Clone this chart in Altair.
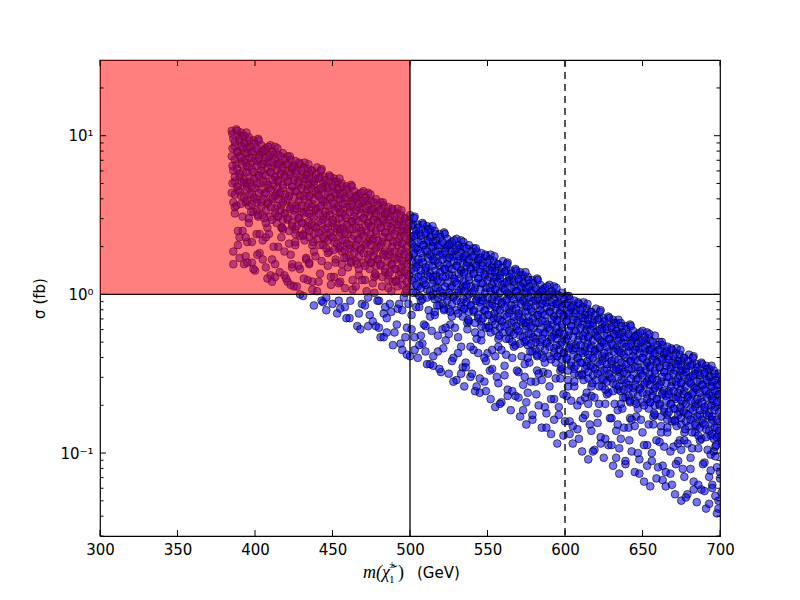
import altair as alt
import pandas as pd

# ---- scatter points: (chargino mass [GeV], log10 of sigma [fb]) ----
# dense upper part of the band
core_385_534 = [
(385,1.03),(388,1.04),(391,1.02),(393,1.00),(386,0.98),(390,0.97),(394,0.95),(387,0.93),(392,0.92),(389,0.90),(385,0.87),(391,0.86),(394,0.83),(388,0.82),(386,0.78),(392,0.77),(390,0.74),(387,0.71),(393,0.70),(389,0.66),(385,0.64),(391,0.62),(394,0.58),(388,0.56),
(396,0.99),(399,0.97),(402,0.98),(404,0.94),(397,0.93),(400,0.90),(395,0.89),(403,0.88),(398,0.86),(401,0.84),(396,0.80),(404,0.81),(399,0.77),(402,0.75),(397,0.71),(395,0.68),(400,0.67),(403,0.70),(398,0.63),(401,0.60),(396,0.56),(404,0.58),(399,0.52),(402,0.49),
(407,0.92),(410,0.94),(413,0.93),(405,0.90),(409,0.87),(412,0.88),(406,0.84),(414,0.82),(408,0.83),(411,0.80),(405,0.76),(410,0.77),(413,0.74),(407,0.71),(409,0.67),(412,0.69),(414,0.64),(406,0.63),(411,0.60),(408,0.57),(413,0.54),(405,0.50),(410,0.49),(407,0.45),
(415,0.88),(418,0.89),(421,0.87),(423,0.85),(416,0.83),(420,0.82),(424,0.80),(417,0.78),(422,0.77),(419,0.75),(415,0.72),(421,0.71),(424,0.68),(418,0.67),(416,0.63),(422,0.62),(420,0.59),(417,0.56),(423,0.55),(419,0.51),(415,0.49),(421,0.47),(424,0.43),(418,0.41),
(426,0.84),(429,0.82),(432,0.83),(434,0.79),(427,0.78),(430,0.75),(425,0.74),(433,0.73),(428,0.71),(431,0.69),(426,0.65),(434,0.66),(429,0.62),(432,0.60),(427,0.56),(425,0.53),(430,0.52),(433,0.55),(428,0.48),(431,0.45),(426,0.41),(434,0.43),(429,0.37),(432,0.34),
(437,0.78),(440,0.80),(443,0.79),(435,0.76),(439,0.73),(442,0.74),(436,0.70),(444,0.68),(438,0.69),(441,0.66),(435,0.62),(440,0.63),(443,0.60),(437,0.57),(439,0.53),(442,0.55),(444,0.50),(436,0.49),(441,0.46),(438,0.43),(443,0.40),(435,0.36),(440,0.35),(437,0.31),
(445,0.74),(448,0.75),(451,0.73),(453,0.71),(446,0.69),(450,0.68),(454,0.66),(447,0.64),(452,0.63),(449,0.61),(445,0.58),(451,0.57),(454,0.54),(448,0.53),(446,0.49),(452,0.48),(450,0.45),(447,0.42),(453,0.41),(449,0.37),(445,0.35),(451,0.33),(454,0.29),(448,0.27),
(456,0.70),(459,0.68),(462,0.69),(464,0.65),(457,0.64),(460,0.61),(455,0.60),(463,0.59),(458,0.57),(461,0.55),(456,0.51),(464,0.52),(459,0.48),(462,0.46),(457,0.42),(455,0.39),(460,0.38),(463,0.41),(458,0.34),(461,0.31),(456,0.27),(464,0.29),(459,0.23),(462,0.20),
(467,0.63),(470,0.65),(473,0.64),(465,0.61),(469,0.58),(472,0.59),(466,0.55),(474,0.53),(468,0.54),(471,0.51),(465,0.47),(470,0.48),(473,0.45),(467,0.42),(469,0.38),(472,0.40),(474,0.35),(466,0.34),(471,0.31),(468,0.28),(473,0.25),(465,0.21),(470,0.20),(467,0.16),
(475,0.59),(478,0.60),(481,0.58),(483,0.56),(476,0.54),(480,0.53),(484,0.51),(477,0.49),(482,0.48),(479,0.46),(475,0.43),(481,0.42),(484,0.39),(478,0.38),(476,0.34),(482,0.33),(480,0.30),(477,0.27),(483,0.26),(479,0.22),(475,0.20),(481,0.18),(484,0.14),(478,0.12),
(486,0.55),(489,0.53),(492,0.54),(494,0.50),(487,0.49),(490,0.46),(485,0.45),(493,0.44),(488,0.42),(491,0.40),(486,0.36),(494,0.37),(489,0.33),(492,0.31),(487,0.27),(485,0.24),(490,0.23),(493,0.26),(488,0.19),(491,0.16),(486,0.12),(494,0.14),(489,0.08),(492,0.05),
(497,0.48),(500,0.50),(503,0.49),(495,0.46),(499,0.43),(502,0.44),(496,0.40),(504,0.38),(498,0.39),(501,0.36),(495,0.32),(500,0.33),(503,0.30),(497,0.27),(499,0.23),(502,0.25),(504,0.20),(496,0.19),(501,0.16),(498,0.13),(503,0.10),(495,0.06),(500,0.05),(497,0.01),
(505,0.44),(508,0.45),(511,0.43),(513,0.41),(506,0.39),(510,0.38),(514,0.36),(507,0.34),(512,0.33),(509,0.31),(505,0.28),(511,0.27),(514,0.24),(508,0.23),(506,0.19),(512,0.18),(510,0.15),(507,0.12),(513,0.11),(509,0.07),(505,0.05),(511,0.03),(514,-0.01),(508,-0.03),
(516,0.40),(519,0.38),(522,0.39),(524,0.35),(517,0.34),(520,0.31),(515,0.30),(523,0.29),(518,0.27),(521,0.25),(516,0.21),(524,0.22),(519,0.18),(522,0.16),(517,0.12),(515,0.09),(520,0.08),(523,0.11),(518,0.04),(521,0.01),(516,-0.03),(524,-0.01),(519,-0.07),(522,-0.10),
(527,0.33),(530,0.35),(533,0.34),(525,0.31),(529,0.28),(532,0.29),(526,0.25),(534,0.23),(528,0.24),(531,0.21),(525,0.17),(530,0.18),(533,0.15),(527,0.12),(529,0.08),(532,0.10),(534,0.05),(526,0.04),(531,0.01),(528,-0.02),(533,-0.05),(525,-0.09),(530,-0.10),(527,-0.14),
]
core_535_701 = [
(535,0.30),(538,0.31),(541,0.29),(543,0.27),(536,0.25),(540,0.24),(544,0.22),(537,0.20),(542,0.19),(539,0.17),(535,0.14),(541,0.13),(544,0.10),(538,0.09),(536,0.05),(542,0.04),(540,0.01),(537,-0.02),(543,-0.03),(539,-0.07),(535,-0.09),(541,-0.11),(544,-0.15),(538,-0.17),
(546,0.26),(549,0.24),(552,0.25),(554,0.21),(547,0.20),(550,0.17),(545,0.16),(553,0.15),(548,0.13),(551,0.11),(546,0.07),(554,0.08),(549,0.04),(552,0.02),(547,-0.02),(545,-0.05),(550,-0.06),(553,-0.03),(548,-0.10),(551,-0.13),(546,-0.17),(554,-0.15),(549,-0.21),(552,-0.24),
(557,0.19),(560,0.21),(563,0.20),(555,0.17),(559,0.14),(562,0.15),(556,0.11),(564,0.09),(558,0.10),(561,0.07),(555,0.03),(560,0.04),(563,0.01),(557,-0.02),(559,-0.06),(562,-0.04),(564,-0.09),(556,-0.10),(561,-0.13),(558,-0.16),(563,-0.19),(555,-0.23),(560,-0.24),(557,-0.28),
(565,0.15),(568,0.16),(571,0.14),(573,0.12),(566,0.10),(570,0.09),(574,0.07),(567,0.05),(572,0.04),(569,0.02),(565,-0.01),(571,-0.02),(574,-0.05),(568,-0.06),(566,-0.10),(572,-0.11),(570,-0.14),(567,-0.17),(573,-0.18),(569,-0.22),(565,-0.24),(571,-0.26),(574,-0.30),(568,-0.32),
(576,0.11),(579,0.09),(582,0.10),(584,0.06),(577,0.05),(580,0.02),(575,0.01),(583,0.00),(578,-0.02),(581,-0.04),(576,-0.08),(584,-0.07),(579,-0.11),(582,-0.13),(577,-0.17),(575,-0.20),(580,-0.21),(583,-0.18),(578,-0.25),(581,-0.28),(576,-0.32),(584,-0.30),(579,-0.36),(582,-0.39),
(587,0.04),(590,0.06),(593,0.05),(585,0.02),(589,-0.01),(592,0.00),(586,-0.04),(594,-0.06),(588,-0.05),(591,-0.08),(585,-0.12),(590,-0.11),(593,-0.14),(587,-0.17),(589,-0.21),(592,-0.19),(594,-0.24),(586,-0.25),(591,-0.28),(588,-0.31),(593,-0.34),(585,-0.38),(590,-0.39),(587,-0.43),
(595,0.00),(598,0.01),(601,-0.01),(603,-0.03),(596,-0.05),(600,-0.06),(604,-0.08),(597,-0.10),(602,-0.11),(599,-0.13),(595,-0.16),(601,-0.17),(604,-0.20),(598,-0.21),(596,-0.25),(602,-0.26),(600,-0.29),(597,-0.32),(603,-0.33),(599,-0.37),(595,-0.39),(601,-0.41),(604,-0.45),(598,-0.47),
(606,-0.04),(609,-0.06),(612,-0.05),(614,-0.09),(607,-0.10),(610,-0.13),(605,-0.14),(613,-0.15),(608,-0.17),(611,-0.19),(606,-0.23),(614,-0.22),(609,-0.26),(612,-0.28),(607,-0.32),(605,-0.35),(610,-0.36),(613,-0.33),(608,-0.40),(611,-0.43),(606,-0.47),(614,-0.45),(609,-0.51),(612,-0.54),
(617,-0.11),(620,-0.09),(623,-0.10),(615,-0.13),(619,-0.16),(622,-0.15),(616,-0.19),(624,-0.21),(618,-0.20),(621,-0.23),(615,-0.27),(620,-0.26),(623,-0.29),(617,-0.32),(619,-0.36),(622,-0.34),(624,-0.39),(616,-0.40),(621,-0.43),(618,-0.46),(623,-0.49),(615,-0.53),(620,-0.54),(617,-0.58),
(625,-0.15),(628,-0.14),(631,-0.16),(633,-0.18),(626,-0.20),(630,-0.21),(634,-0.23),(627,-0.25),(632,-0.26),(629,-0.28),(625,-0.31),(631,-0.32),(634,-0.35),(628,-0.36),(626,-0.40),(632,-0.41),(630,-0.44),(627,-0.47),(633,-0.48),(629,-0.52),(625,-0.54),(631,-0.56),(634,-0.60),(628,-0.62),
(636,-0.18),(639,-0.20),(642,-0.19),(644,-0.23),(637,-0.24),(640,-0.27),(635,-0.28),(643,-0.29),(638,-0.31),(641,-0.33),(636,-0.37),(644,-0.36),(639,-0.40),(642,-0.42),(637,-0.46),(635,-0.49),(640,-0.50),(643,-0.47),(638,-0.54),(641,-0.57),(636,-0.61),(644,-0.59),(639,-0.65),(642,-0.68),
(647,-0.25),(650,-0.23),(653,-0.24),(645,-0.27),(649,-0.30),(652,-0.29),(646,-0.33),(654,-0.35),(648,-0.34),(651,-0.37),(645,-0.41),(650,-0.40),(653,-0.43),(647,-0.46),(649,-0.50),(652,-0.48),(654,-0.53),(646,-0.54),(651,-0.57),(648,-0.60),(653,-0.63),(645,-0.67),(650,-0.68),(647,-0.72),
(655,-0.29),(658,-0.26),(661,-0.30),(663,-0.32),(656,-0.34),(660,-0.35),(664,-0.37),(657,-0.39),(662,-0.40),(659,-0.42),(655,-0.45),(661,-0.46),(664,-0.49),(658,-0.50),(656,-0.54),(662,-0.55),(660,-0.58),(657,-0.61),(663,-0.62),(659,-0.66),(655,-0.68),(661,-0.70),(664,-0.74),(658,-0.76),
(666,-0.33),(669,-0.35),(672,-0.34),(674,-0.38),(667,-0.39),(670,-0.42),(665,-0.43),(673,-0.44),(668,-0.46),(671,-0.48),(666,-0.52),(674,-0.51),(669,-0.55),(672,-0.57),(667,-0.61),(665,-0.64),(670,-0.65),(673,-0.62),(668,-0.69),(671,-0.72),(666,-0.76),(674,-0.74),(669,-0.80),(672,-0.83),
(677,-0.40),(680,-0.38),(683,-0.39),(675,-0.42),(679,-0.45),(682,-0.44),(676,-0.48),(684,-0.50),(678,-0.49),(681,-0.52),(675,-0.56),(680,-0.55),(683,-0.58),(677,-0.61),(679,-0.65),(682,-0.63),(684,-0.68),(676,-0.69),(681,-0.72),(678,-0.75),(683,-0.78),(675,-0.82),(680,-0.83),(677,-0.87),
(685,-0.44),(688,-0.43),(691,-0.45),(693,-0.47),(686,-0.49),(690,-0.50),(694,-0.52),(687,-0.54),(692,-0.55),(689,-0.57),(685,-0.60),(691,-0.61),(694,-0.64),(688,-0.65),(686,-0.69),(692,-0.70),(690,-0.73),(687,-0.76),(693,-0.77),(689,-0.81),(685,-0.83),(691,-0.85),(694,-0.89),(688,-0.91),
(696,-0.48),(699,-0.50),(697,-0.54),(700,-0.57),(695,-0.58),(698,-0.61),(696,-0.67),(699,-0.63),(697,-0.71),(695,-0.79),(700,-0.80),(698,-0.84),(701,-0.70),(696,-0.91),(699,-0.89),(697,-0.96),(701,-0.92),
]
# more points filling the dense upper part
fill_385_534 = [
(385.5,1.01),(388.5,1.03),(391.5,1.00),(394.5,1.02),(387,0.96),(390,0.98),(393,0.95),(385.5,0.92),(388.5,0.90),(391.5,0.93),(394.5,0.89),(387,0.85),(390,0.87),(393,0.84),(385.5,0.81),(388.5,0.79),(391.5,0.82),(394.5,0.77),(387,0.74),(390,0.76),(393,0.72),(385.5,0.70),(388.5,0.68),(391.5,0.71),(394.5,0.66),(387,0.63),(390,0.65),(393,0.61),(386,0.58),(391,0.57),
(396.5,0.97),(399.5,0.95),(402.5,0.97),(395,0.92),(398,0.90),(401,0.92),(404,0.89),(396.5,0.86),(399.5,0.84),(402.5,0.86),(395,0.81),(398,0.79),(401,0.81),(404,0.78),(396.5,0.74),(399.5,0.73),(402.5,0.75),(395,0.70),(398,0.68),(401,0.70),(404,0.66),(396.5,0.63),(399.5,0.61),(402.5,0.64),(395,0.59),(398,0.57),(401,0.58),(404,0.55),(397.5,0.52),(402,0.50),
(405.5,0.91),(408.5,0.93),(411.5,0.90),(414.5,0.92),(407,0.86),(410,0.88),(413,0.85),(405.5,0.82),(408.5,0.80),(411.5,0.83),(414.5,0.79),(407,0.75),(410,0.77),(413,0.74),(405.5,0.71),(408.5,0.69),(411.5,0.72),(414.5,0.67),(407,0.64),(410,0.66),(413,0.62),(405.5,0.60),(408.5,0.58),(411.5,0.61),(414.5,0.56),(407,0.53),(410,0.55),(413,0.51),(406,0.48),(411,0.47),
(416.5,0.87),(419.5,0.85),(422.5,0.87),(415,0.82),(418,0.80),(421,0.82),(424,0.79),(416.5,0.76),(419.5,0.74),(422.5,0.76),(415,0.71),(418,0.69),(421,0.71),(424,0.68),(416.5,0.64),(419.5,0.63),(422.5,0.65),(415,0.60),(418,0.58),(421,0.60),(424,0.56),(416.5,0.53),(419.5,0.51),(422.5,0.54),(415,0.49),(418,0.47),(421,0.48),(424,0.45),(417.5,0.42),(422,0.40),
(425.5,0.81),(428.5,0.83),(431.5,0.80),(434.5,0.82),(427,0.76),(430,0.78),(433,0.75),(425.5,0.72),(428.5,0.70),(431.5,0.73),(434.5,0.69),(427,0.65),(430,0.67),(433,0.64),(425.5,0.61),(428.5,0.59),(431.5,0.62),(434.5,0.57),(427,0.54),(430,0.56),(433,0.52),(425.5,0.50),(428.5,0.48),(431.5,0.51),(434.5,0.46),(427,0.43),(430,0.45),(433,0.41),(426,0.38),(431,0.37),
(436.5,0.78),(439.5,0.76),(442.5,0.78),(435,0.73),(438,0.71),(441,0.73),(444,0.70),(436.5,0.67),(439.5,0.65),(442.5,0.67),(435,0.62),(438,0.60),(441,0.62),(444,0.59),(436.5,0.55),(439.5,0.54),(442.5,0.56),(435,0.51),(438,0.49),(441,0.51),(444,0.47),(436.5,0.44),(439.5,0.42),(442.5,0.45),(435,0.40),(438,0.38),(441,0.39),(444,0.36),(437.5,0.33),(442,0.31),
(445.5,0.72),(448.5,0.74),(451.5,0.71),(454.5,0.73),(447,0.67),(450,0.69),(453,0.66),(445.5,0.63),(448.5,0.61),(451.5,0.64),(454.5,0.60),(447,0.56),(450,0.58),(453,0.55),(445.5,0.52),(448.5,0.50),(451.5,0.53),(454.5,0.48),(447,0.45),(450,0.47),(453,0.43),(445.5,0.41),(448.5,0.39),(451.5,0.42),(454.5,0.37),(447,0.34),(450,0.36),(453,0.32),(446,0.29),(451,0.28),
(456.5,0.68),(459.5,0.66),(462.5,0.68),(455,0.63),(458,0.61),(461,0.63),(464,0.60),(456.5,0.57),(459.5,0.55),(462.5,0.57),(455,0.52),(458,0.50),(461,0.52),(464,0.49),(456.5,0.45),(459.5,0.44),(462.5,0.46),(455,0.41),(458,0.39),(461,0.41),(464,0.37),(456.5,0.34),(459.5,0.32),(462.5,0.35),(455,0.30),(458,0.28),(461,0.29),(464,0.26),(457.5,0.23),(462,0.21),
(465.5,0.62),(468.5,0.64),(471.5,0.61),(474.5,0.63),(467,0.57),(470,0.59),(473,0.56),(465.5,0.53),(468.5,0.51),(471.5,0.54),(474.5,0.50),(467,0.46),(470,0.48),(473,0.45),(465.5,0.42),(468.5,0.40),(471.5,0.43),(474.5,0.38),(467,0.35),(470,0.37),(473,0.33),(465.5,0.31),(468.5,0.29),(471.5,0.32),(474.5,0.27),(467,0.24),(470,0.26),(473,0.22),(466,0.19),(471,0.18),
(476.5,0.58),(479.5,0.56),(482.5,0.58),(475,0.53),(478,0.51),(481,0.53),(484,0.50),(476.5,0.47),(479.5,0.45),(482.5,0.47),(475,0.42),(478,0.40),(481,0.42),(484,0.39),(476.5,0.35),(479.5,0.34),(482.5,0.36),(475,0.31),(478,0.29),(481,0.31),(484,0.27),(476.5,0.24),(479.5,0.22),(482.5,0.25),(475,0.20),(478,0.18),(481,0.19),(484,0.16),(477.5,0.13),(482,0.11),
(485.5,0.52),(488.5,0.54),(491.5,0.51),(494.5,0.53),(487,0.47),(490,0.49),(493,0.46),(485.5,0.43),(488.5,0.41),(491.5,0.44),(494.5,0.40),(487,0.36),(490,0.38),(493,0.35),(485.5,0.32),(488.5,0.30),(491.5,0.33),(494.5,0.28),(487,0.25),(490,0.27),(493,0.23),(485.5,0.21),(488.5,0.19),(491.5,0.22),(494.5,0.17),(487,0.14),(490,0.16),(493,0.12),(486,0.09),(491,0.08),
(496.5,0.48),(499.5,0.46),(502.5,0.48),(495,0.43),(498,0.41),(501,0.43),(504,0.40),(496.5,0.37),(499.5,0.35),(502.5,0.37),(495,0.32),(498,0.30),(501,0.32),(504,0.29),(496.5,0.25),(499.5,0.24),(502.5,0.26),(495,0.21),(498,0.19),(501,0.21),(504,0.17),(496.5,0.14),(499.5,0.12),(502.5,0.15),(495,0.10),(498,0.08),(501,0.09),(504,0.06),(497.5,0.03),(502,0.01),
(505.5,0.42),(508.5,0.44),(511.5,0.41),(514.5,0.43),(507,0.37),(510,0.39),(513,0.36),(505.5,0.33),(508.5,0.31),(511.5,0.34),(514.5,0.30),(507,0.26),(510,0.28),(513,0.25),(505.5,0.22),(508.5,0.20),(511.5,0.23),(514.5,0.18),(507,0.15),(510,0.17),(513,0.13),(505.5,0.11),(508.5,0.09),(511.5,0.12),(514.5,0.07),(507,0.04),(510,0.06),(513,0.02),(506,-0.01),(511,-0.02),
(516.5,0.38),(519.5,0.36),(522.5,0.38),(515,0.33),(518,0.31),(521,0.33),(524,0.30),(516.5,0.27),(519.5,0.25),(522.5,0.27),(515,0.22),(518,0.20),(521,0.22),(524,0.19),(516.5,0.15),(519.5,0.14),(522.5,0.16),(515,0.11),(518,0.09),(521,0.11),(524,0.07),(516.5,0.04),(519.5,0.02),(522.5,0.05),(515,0.00),(518,-0.02),(521,-0.01),(524,-0.04),(517.5,-0.07),(522,-0.09),
(525.5,0.32),(528.5,0.34),(531.5,0.31),(534.5,0.33),(527,0.27),(530,0.29),(533,0.26),(525.5,0.23),(528.5,0.21),(531.5,0.24),(534.5,0.20),(527,0.16),(530,0.18),(533,0.15),(525.5,0.12),(528.5,0.10),(531.5,0.13),(534.5,0.08),(527,0.05),(530,0.07),(533,0.03),(525.5,0.01),(528.5,-0.01),(531.5,0.02),(534.5,-0.03),(527,-0.06),(530,-0.04),(533,-0.08),(526,-0.11),(531,-0.12),
]
fill_535_701 = [
(536.5,0.29),(539.5,0.27),(542.5,0.29),(535,0.24),(538,0.22),(541,0.24),(544,0.21),(536.5,0.18),(539.5,0.16),(542.5,0.18),(535,0.13),(538,0.11),(541,0.13),(544,0.10),(536.5,0.06),(539.5,0.05),(542.5,0.07),(535,0.02),(538,0.00),(541,0.02),(544,-0.02),(536.5,-0.05),(539.5,-0.07),(542.5,-0.04),(535,-0.09),(538,-0.11),(541,-0.10),(544,-0.13),(537.5,-0.16),(542,-0.18),
(545.5,0.23),(548.5,0.25),(551.5,0.22),(554.5,0.24),(547,0.18),(550,0.20),(553,0.17),(545.5,0.14),(548.5,0.12),(551.5,0.15),(554.5,0.11),(547,0.07),(550,0.09),(553,0.06),(545.5,0.03),(548.5,0.01),(551.5,0.04),(554.5,-0.01),(547,-0.04),(550,-0.02),(553,-0.06),(545.5,-0.08),(548.5,-0.10),(551.5,-0.07),(554.5,-0.12),(547,-0.15),(550,-0.13),(553,-0.17),(546,-0.20),(551,-0.21),
(556.5,0.19),(559.5,0.17),(562.5,0.19),(555,0.14),(558,0.12),(561,0.14),(564,0.11),(556.5,0.08),(559.5,0.06),(562.5,0.08),(555,0.03),(558,0.01),(561,0.03),(564,0.00),(556.5,-0.04),(559.5,-0.05),(562.5,-0.03),(555,-0.08),(558,-0.10),(561,-0.08),(564,-0.12),(556.5,-0.15),(559.5,-0.17),(562.5,-0.14),(555,-0.19),(558,-0.21),(561,-0.20),(564,-0.23),(557.5,-0.26),(562,-0.28),
(565.5,0.13),(568.5,0.15),(571.5,0.12),(574.5,0.14),(567,0.08),(570,0.10),(573,0.07),(565.5,0.04),(568.5,0.02),(571.5,0.05),(574.5,0.01),(567,-0.03),(570,-0.01),(573,-0.04),(565.5,-0.07),(568.5,-0.09),(571.5,-0.06),(574.5,-0.11),(567,-0.14),(570,-0.12),(573,-0.16),(565.5,-0.18),(568.5,-0.20),(571.5,-0.17),(574.5,-0.22),(567,-0.25),(570,-0.23),(573,-0.27),(566,-0.30),(571,-0.31),
(576.5,0.09),(579.5,0.07),(582.5,0.09),(575,0.04),(578,0.02),(581,0.04),(584,0.01),(576.5,-0.02),(579.5,-0.04),(582.5,-0.02),(575,-0.07),(578,-0.09),(581,-0.07),(584,-0.10),(576.5,-0.14),(579.5,-0.15),(582.5,-0.13),(575,-0.18),(578,-0.20),(581,-0.18),(584,-0.22),(576.5,-0.25),(579.5,-0.27),(582.5,-0.24),(575,-0.29),(578,-0.31),(581,-0.30),(584,-0.33),(577.5,-0.36),(582,-0.38),
(585.5,0.03),(588.5,0.05),(591.5,0.02),(594.5,0.04),(587,-0.02),(590,0.00),(593,-0.03),(585.5,-0.06),(588.5,-0.08),(591.5,-0.05),(594.5,-0.09),(587,-0.13),(590,-0.11),(593,-0.14),(585.5,-0.17),(588.5,-0.19),(591.5,-0.16),(594.5,-0.21),(587,-0.24),(590,-0.22),(593,-0.26),(585.5,-0.28),(588.5,-0.30),(591.5,-0.27),(594.5,-0.32),(587,-0.35),(590,-0.33),(593,-0.37),(586,-0.40),(591,-0.41),
(596.5,-0.01),(599.5,-0.03),(602.5,-0.01),(595,-0.06),(598,-0.08),(601,-0.06),(604,-0.09),(596.5,-0.12),(599.5,-0.14),(602.5,-0.12),(595,-0.17),(598,-0.19),(601,-0.17),(604,-0.20),(596.5,-0.24),(599.5,-0.25),(602.5,-0.23),(595,-0.28),(598,-0.30),(601,-0.28),(604,-0.32),(596.5,-0.35),(599.5,-0.37),(602.5,-0.34),(595,-0.39),(598,-0.41),(601,-0.40),(604,-0.43),(597.5,-0.46),(602,-0.48),
(605.5,-0.07),(608.5,-0.05),(611.5,-0.08),(614.5,-0.06),(607,-0.12),(610,-0.10),(613,-0.13),(605.5,-0.16),(608.5,-0.18),(611.5,-0.15),(614.5,-0.19),(607,-0.23),(610,-0.21),(613,-0.24),(605.5,-0.27),(608.5,-0.29),(611.5,-0.26),(614.5,-0.31),(607,-0.34),(610,-0.32),(613,-0.36),(605.5,-0.38),(608.5,-0.40),(611.5,-0.37),(614.5,-0.42),(607,-0.45),(610,-0.43),(613,-0.47),(606,-0.50),(611,-0.51),
(616.5,-0.11),(619.5,-0.13),(622.5,-0.11),(615,-0.16),(618,-0.18),(621,-0.16),(624,-0.19),(616.5,-0.22),(619.5,-0.24),(622.5,-0.22),(615,-0.27),(618,-0.29),(621,-0.27),(624,-0.30),(616.5,-0.34),(619.5,-0.35),(622.5,-0.33),(615,-0.38),(618,-0.40),(621,-0.38),(624,-0.42),(616.5,-0.45),(619.5,-0.47),(622.5,-0.44),(615,-0.49),(618,-0.51),(621,-0.50),(624,-0.53),(617.5,-0.56),(622,-0.58),
(625.5,-0.17),(628.5,-0.15),(631.5,-0.18),(634.5,-0.16),(627,-0.22),(630,-0.20),(633,-0.23),(625.5,-0.26),(628.5,-0.28),(631.5,-0.25),(634.5,-0.29),(627,-0.33),(630,-0.31),(633,-0.34),(625.5,-0.37),(628.5,-0.39),(631.5,-0.36),(634.5,-0.41),(627,-0.44),(630,-0.42),(633,-0.46),(625.5,-0.48),(628.5,-0.50),(631.5,-0.47),(634.5,-0.52),(627,-0.55),(630,-0.53),(633,-0.57),(626,-0.60),(631,-0.61),
(636.5,-0.20),(639.5,-0.22),(642.5,-0.20),(635,-0.25),(638,-0.27),(641,-0.25),(644,-0.28),(636.5,-0.31),(639.5,-0.33),(642.5,-0.31),(635,-0.36),(638,-0.38),(641,-0.36),(644,-0.39),(636.5,-0.43),(639.5,-0.44),(642.5,-0.42),(635,-0.47),(638,-0.49),(641,-0.47),(644,-0.51),(636.5,-0.54),(639.5,-0.56),(642.5,-0.53),(635,-0.58),(638,-0.60),(641,-0.59),(644,-0.62),(637.5,-0.65),(642,-0.67),
(645.5,-0.26),(648.5,-0.24),(651.5,-0.27),(654.5,-0.25),(647,-0.31),(650,-0.29),(653,-0.32),(645.5,-0.35),(648.5,-0.37),(651.5,-0.34),(654.5,-0.38),(647,-0.42),(650,-0.40),(653,-0.43),(645.5,-0.46),(648.5,-0.48),(651.5,-0.45),(654.5,-0.50),(647,-0.53),(650,-0.51),(653,-0.55),(645.5,-0.57),(648.5,-0.59),(651.5,-0.56),(654.5,-0.61),(647,-0.64),(650,-0.62),(653,-0.66),(646,-0.69),(651,-0.70),
(656.5,-0.30),(659.5,-0.32),(662.5,-0.30),(655,-0.35),(658,-0.37),(661,-0.35),(664,-0.38),(656.5,-0.41),(659.5,-0.43),(662.5,-0.41),(655,-0.46),(658,-0.48),(661,-0.46),(664,-0.49),(656.5,-0.53),(659.5,-0.54),(662.5,-0.52),(655,-0.57),(658,-0.59),(661,-0.57),(664,-0.61),(656.5,-0.64),(659.5,-0.66),(662.5,-0.63),(655,-0.68),(658,-0.70),(661,-0.69),(664,-0.72),(657.5,-0.75),(662,-0.77),
(665.5,-0.36),(668.5,-0.34),(671.5,-0.37),(674.5,-0.35),(667,-0.41),(670,-0.39),(673,-0.42),(665.5,-0.45),(668.5,-0.47),(671.5,-0.44),(674.5,-0.48),(667,-0.52),(670,-0.50),(673,-0.53),(665.5,-0.56),(668.5,-0.58),(671.5,-0.55),(674.5,-0.60),(667,-0.63),(670,-0.61),(673,-0.65),(665.5,-0.67),(668.5,-0.69),(671.5,-0.66),(674.5,-0.71),(667,-0.74),(670,-0.72),(673,-0.76),(666,-0.79),(671,-0.80),
(676.5,-0.40),(679.5,-0.42),(682.5,-0.40),(675,-0.45),(678,-0.47),(681,-0.45),(684,-0.48),(676.5,-0.51),(679.5,-0.53),(682.5,-0.51),(675,-0.56),(678,-0.58),(681,-0.56),(684,-0.59),(676.5,-0.63),(679.5,-0.64),(682.5,-0.62),(675,-0.67),(678,-0.69),(681,-0.67),(684,-0.71),(676.5,-0.74),(679.5,-0.76),(682.5,-0.73),(675,-0.78),(678,-0.80),(681,-0.79),(684,-0.82),(677.5,-0.85),(682,-0.87),
(685.5,-0.46),(688.5,-0.44),(691.5,-0.47),(694.5,-0.45),(687,-0.51),(690,-0.49),(693,-0.52),(685.5,-0.55),(688.5,-0.57),(691.5,-0.54),(694.5,-0.58),(687,-0.62),(690,-0.60),(693,-0.63),(685.5,-0.66),(688.5,-0.68),(691.5,-0.65),(694.5,-0.70),(687,-0.73),(690,-0.71),(693,-0.75),(685.5,-0.77),(688.5,-0.79),(691.5,-0.76),(694.5,-0.81),(687,-0.84),(690,-0.82),(693,-0.86),(686,-0.89),(691,-0.90),
(696.5,-0.50),(699.5,-0.52),(695,-0.55),(698,-0.57),(701,-0.55),(696.5,-0.61),(699.5,-0.63),(695,-0.66),(698,-0.68),(701,-0.66),(696.5,-0.73),(699.5,-0.74),(695,-0.77),(698,-0.79),(701,-0.77),(696.5,-0.84),(699.5,-0.86),(695,-0.88),(698,-0.90),(701,-0.89),(697.5,-0.95),
]
# sparse lower part of the band
sparse_385_534 = [
(387,0.51),(392,0.40),(389,0.31),(394,0.24),(386,0.19),(390,0.36),
(396,0.45),(401,0.38),(403,0.26),(398,0.20),(400,0.15),(395,0.33),
(408,0.42),(412,0.30),(405,0.22),(410,0.12),(413,0.19),(407,0.36),(411,0.08),
(417,0.36),(423,0.25),(419,0.12),(415,0.30),(421,0.08),(424,0.17),
(426,0.31),(429,0.16),(433,0.22),(427,0.05),(431,-0.01),(434,0.09),
(438,0.27),(442,0.13),(435,0.19),(440,0.02),(444,-0.05),(437,0.08),(443,0.21),
(447,0.18),(452,0.22),(449,0.06),(454,-0.04),(446,-0.10),(451,0.11),
(456,0.14),(460,0.17),(463,0.03),(458,-0.08),(461,-0.15),(455,0.08),
(467,0.12),(472,0.02),(469,-0.06),(474,-0.13),(466,-0.20),(471,0.09),(473,-0.02),
(476,0.07),(480,-0.04),(483,-0.12),(478,-0.20),(481,-0.27),(477,0.01),
(488,0.02),(492,-0.09),(485,-0.15),(490,-0.24),(494,-0.31),(487,-0.06),
(496,-0.02),(501,-0.13),(498,-0.21),(503,-0.27),(495,-0.35),(500,-0.39),(504,-0.08),
(506,-0.08),(510,-0.20),(513,-0.14),(508,-0.31),(505,-0.40),(511,-0.44),(507,-0.26),
(516,-0.13),(521,-0.22),(518,-0.36),(523,-0.29),(515,-0.45),(520,-0.49),
(526,-0.19),(531,-0.27),(528,-0.40),(533,-0.33),(525,-0.50),(530,-0.54),(534,-0.46),
]
sparse_535_701 = [
(537,-0.22),(541,-0.35),(536,-0.43),(543,-0.28),(539,-0.52),(535,-0.58),(542,-0.61),
(546,-0.29),(550,-0.37),(553,-0.47),(548,-0.55),(545,-0.62),(552,-0.66),(549,-0.42),
(557,-0.33),(561,-0.45),(556,-0.52),(563,-0.60),(559,-0.68),(555,-0.71),(562,-0.38),
(566,-0.40),(570,-0.49),(573,-0.57),(568,-0.64),(565,-0.73),(571,-0.77),(574,-0.44),
(577,-0.43),(581,-0.55),(576,-0.62),(583,-0.70),(579,-0.79),(575,-0.82),(582,-0.48),
(586,-0.49),(590,-0.58),(593,-0.66),(588,-0.75),(585,-0.84),(591,-0.88),(594,-0.53),
(597,-0.53),(601,-0.64),(596,-0.71),(603,-0.80),(599,-0.89),(595,-0.94),(602,-0.58),
(606,-0.58),(610,-0.67),(613,-0.76),(608,-0.85),(605,-0.94),(611,-0.99),(614,-0.62),
(617,-0.64),(621,-0.75),(616,-0.82),(623,-0.90),(619,-0.98),(615,-1.04),(622,-0.69),
(626,-0.69),(630,-0.78),(633,-0.86),(628,-0.95),(625,-1.03),(631,-1.08),(634,-0.73),
(637,-0.72),(641,-0.84),(636,-0.91),(643,-0.99),(639,-1.07),(635,-1.13),(642,-0.78),
(646,-0.77),(650,-0.87),(653,-0.95),(648,-1.04),(645,-1.12),(651,-1.18),(654,-0.82),
(657,-0.82),(661,-0.93),(656,-1.00),(663,-1.08),(659,-1.16),(655,-1.21),(662,-0.87),
(666,-0.87),(670,-0.96),(673,-1.05),(668,-1.13),(665,-1.21),(671,-1.26),(674,-0.92),
(677,-0.92),(681,-1.03),(676,-1.10),(683,-1.18),(679,-1.26),(675,-1.30),(682,-0.97),
(686,-0.97),(690,-1.06),(693,-1.15),(688,-1.23),(685,-1.31),(691,-1.35),(694,-1.01),
(697,-1.02),(700,-1.12),(695,-1.20),(699,-1.30),(698,-1.38),(701,-1.25),
]
sparse_more = [
(387,0.55),(392,0.49),(389,0.40),(394,0.36),(386,0.27),(390,0.23),(393,0.19),
(401,0.53),(396,0.48),(403,0.38),(398,0.33),(401.5,0.25),(395,0.20),(399,0.16),
(414,0.45),(409,0.38),(405,0.34),(411,0.22),(407,0.17),(413,0.11),(408,0.10),
(417,0.42),(422,0.32),(419,0.27),(424,0.19),(416,0.14),(420,0.10),(423,0.06),
(431,0.38),(426,0.33),(433,0.23),(428,0.18),(431.5,0.10),(425,0.05),(429,0.00),
(444,0.31),(439,0.24),(435,0.20),(441,0.08),(437,0.03),(443,-0.04),(438,-0.07),
(447,0.26),(452,0.20),(449,0.11),(454,0.07),(446,-0.02),(450,-0.06),(453,-0.12),
(461,0.24),(456,0.19),(463,0.09),(458,0.04),(461.5,-0.04),(455,-0.09),(459,-0.15),
(474,0.16),(469,0.09),(465,0.05),(471,-0.07),(467,-0.12),(473,-0.20),(468,-0.22),
(477,0.11),(482,0.05),(479,-0.04),(484,-0.08),(476,-0.17),(480,-0.21),(483,-0.27),
(491,0.09),(486,0.04),(493,-0.06),(488,-0.11),(491.5,-0.19),(485,-0.24),(489,-0.32),
(504,0.01),(499,-0.06),(495,-0.10),(501,-0.22),(497,-0.27),(503,-0.35),(498,-0.38),
(507,-0.04),(512,-0.10),(509,-0.19),(514,-0.23),(506,-0.32),(510,-0.36),(513,-0.44),
(521,-0.06),(516,-0.11),(523,-0.21),(518,-0.26),(521.5,-0.34),(515,-0.39),(519,-0.47),
(534,-0.14),(529,-0.21),(525,-0.25),(531,-0.37),(527,-0.42),(533,-0.50),(528,-0.55),
(537,-0.18),(542,-0.24),(539,-0.33),(544,-0.37),(536,-0.46),(540,-0.50),(543,-0.58),
(551,-0.20),(546,-0.25),(553,-0.35),(548,-0.40),(551.5,-0.48),(545,-0.53),(549,-0.61),
(564,-0.28),(559,-0.35),(555,-0.39),(561,-0.51),(557,-0.56),(563,-0.64),(558,-0.69),
(567,-0.33),(572,-0.39),(569,-0.48),(574,-0.52),(566,-0.61),(570,-0.65),(573,-0.73),
(581,-0.35),(576,-0.40),(583,-0.50),(578,-0.55),(581.5,-0.63),(575,-0.68),(579,-0.76),
(594,-0.43),(589,-0.50),(585,-0.54),(591,-0.66),(587,-0.71),(593,-0.79),(588,-0.84),
(597,-0.48),(602,-0.54),(599,-0.63),(604,-0.67),(596,-0.76),(600,-0.80),(603,-0.88),
(611,-0.50),(606,-0.55),(613,-0.65),(608,-0.70),(611.5,-0.78),(605,-0.83),(609,-0.91),
(624,-0.58),(619,-0.65),(615,-0.69),(621,-0.81),(617,-0.86),(623,-0.94),(618,-0.99),
(627,-0.63),(632,-0.69),(629,-0.78),(634,-0.82),(626,-0.91),(630,-0.95),(633,-1.03),
(641,-0.64),(636,-0.69),(643,-0.79),(638,-0.84),(641.5,-0.92),(635,-0.97),(639,-1.05),
(654,-0.72),(649,-0.79),(645,-0.83),(651,-0.95),(647,-1.00),(653,-1.08),(648,-1.13),
(657,-0.77),(662,-0.83),(659,-0.92),(664,-0.96),(656,-1.05),(660,-1.09),(663,-1.17),
(671,-0.79),(666,-0.84),(673,-0.94),(668,-0.99),(671.5,-1.07),(665,-1.12),(669,-1.20),
(684,-0.87),(679,-0.94),(675,-0.98),(681,-1.10),(677,-1.15),(683,-1.23),(678,-1.28),
(687,-0.92),(692,-0.98),(689,-1.07),(694,-1.11),(686,-1.20),(690,-1.24),(693,-1.32),
(701,-0.94),(696,-0.99),(698,-1.09),(700,-1.16),(695,-1.22),(699,-1.35),(697,-1.27),
]

# ---- reference regions / lines ----
excl_mass = [300, 500]
excl_sigma = [1, 30]
hline_sigma = [1]
vline_mass = [500]
dash_mass = [600]

# ---- axis ticks ----
x_ticks = [300, 350, 400, 450, 500, 550, 600, 650, 700]
y_major = [0.1, 1, 10]
y_minor = [0.03, 0.04, 0.05, 0.06, 0.07, 0.08, 0.09,
           0.2, 0.3, 0.4, 0.5, 0.6, 0.7, 0.8, 0.9,
           2, 3, 4, 5, 6, 7, 8, 9, 20]

W, H = 620, 476

all_pts = (sparse_385_534 + sparse_535_701 + sparse_more +
           core_385_534 + fill_385_534 + core_535_701 + fill_535_701)
pts = pd.DataFrame(all_pts, columns=["mass", "log_sigma"])
pts["sigma"] = 10 ** pts["log_sigma"]

xs = alt.Scale(domain=[300, 700], nice=False, zero=False)
ys = alt.Scale(type="log", domain=[0.03, 30], nice=False)

ax_x = alt.Axis(values=x_ticks, tickSize=0, domain=False, grid=False, labelFontSize=15,
                labelFont="DejaVu Sans", labelColor="black", labelPadding=6, labelFlush=False,
                labelOverlap=False, format="d", title=None)
ax_y = alt.Axis(values=y_major, tickSize=0, domain=False, grid=False, labelFontSize=15,
                labelFont="DejaVu Sans", labelColor="black", labelPadding=7, labelFlush=False,
                labelOverlap=False,
                labelExpr="datum.value >= 5 ? '10¹' : (datum.value >= 0.5 ? '10⁰' : '10⁻¹')",
                title="σ (fb)", titleFont="DejaVu Sans", titleFontSize=15, titleFontWeight="normal",
                titleColor="black", titlePadding=12)

X = lambda f: alt.X(f, type="quantitative", scale=xs, axis=ax_x)
Y = lambda f: alt.Y(f, type="quantitative", scale=ys, axis=ax_y)

points = alt.Chart(pts).mark_point(filled=True, shape="circle", size=60, fill="#0000ff",
                                   stroke="#000000", fillOpacity=0.55, strokeOpacity=0.6,
                                   strokeWidth=1, clip=True).encode(x=X("mass"), y=Y("sigma"))

excl = alt.Chart(pd.DataFrame({"m1": [excl_mass[0]], "m2": [excl_mass[1]],
                               "s1": [excl_sigma[0]], "s2": [excl_sigma[1]]})).mark_rect(
    color="#ff0000", opacity=0.5).encode(x=X("m1"), x2="m2", y=Y("s1"), y2="s2")

hline = alt.Chart(pd.DataFrame({"s": hline_sigma})).mark_rule(color="black", strokeWidth=1.3).encode(y=Y("s"))
vline = alt.Chart(pd.DataFrame({"m": vline_mass})).mark_rule(color="black", strokeWidth=1.3).encode(x=X("m"))
dline = alt.Chart(pd.DataFrame({"m": dash_mass})).mark_rule(color="black", strokeWidth=1.3,
                                                             strokeDash=[7, 5]).encode(x=X("m"))

xt = pd.DataFrame({"m": x_ticks})
ymaj = pd.DataFrame({"s": y_major})
ymin = pd.DataFrame({"s": y_minor})
tick_layers = [
    alt.Chart(xt).mark_rule(color="black").encode(x=X("m"), y=alt.value(H), y2=alt.value(H - 6)),
    alt.Chart(xt).mark_rule(color="black").encode(x=X("m"), y=alt.value(0), y2=alt.value(6)),
    alt.Chart(ymaj).mark_rule(color="black").encode(y=Y("s"), x=alt.value(0), x2=alt.value(6)),
    alt.Chart(ymaj).mark_rule(color="black").encode(y=Y("s"), x=alt.value(W - 6), x2=alt.value(W)),
    alt.Chart(ymin).mark_rule(color="black").encode(y=Y("s"), x=alt.value(0), x2=alt.value(3.5)),
    alt.Chart(ymin).mark_rule(color="black").encode(y=Y("s"), x=alt.value(W - 3.5), x2=alt.value(W)),
]

# x-axis title built from pieces: m(χ̃ with ± above and 1 below, then ) (GeV)
title_main = alt.Chart(pd.DataFrame({"t": ["m(χ̃"]})).mark_text(
    font="Liberation Serif", fontStyle="italic", fontSize=18, align="right", baseline="alphabetic",
    color="black").encode(text="t:N", x=alt.value(290), y=alt.value(H + 42))
title_sup = alt.Chart(pd.DataFrame({"t": ["±"]})).mark_text(
    font="Liberation Serif", fontSize=11, align="left", baseline="alphabetic",
    color="black").encode(text="t:N", x=alt.value(289), y=alt.value(H + 32))
title_sub = alt.Chart(pd.DataFrame({"t": ["1"]})).mark_text(
    font="Liberation Serif", fontSize=11, align="left", baseline="alphabetic",
    color="black").encode(text="t:N", x=alt.value(289), y=alt.value(H + 47))
title_par = alt.Chart(pd.DataFrame({"t": [")"]})).mark_text(
    font="Liberation Serif", fontSize=18, align="left", baseline="alphabetic",
    color="black").encode(text="t:N", x=alt.value(298), y=alt.value(H + 42))
title_unit = alt.Chart(pd.DataFrame({"t": ["(GeV)"]})).mark_text(
    font="DejaVu Sans", fontSize=15, align="left", baseline="alphabetic",
    color="black").encode(text="t:N", x=alt.value(317), y=alt.value(H + 42))

chart = alt.layer(points, excl, hline, vline, dline, *tick_layers,
                  title_main, title_sup, title_sub, title_par, title_unit).properties(
    width=W, height=H,
    autosize=alt.AutoSizeParams(type="none"),
    padding={"left": 92, "top": 52, "right": 60, "bottom": 50},
    background="white",
).configure_view(stroke="black", strokeWidth=1.2)

chart.save("out.html", embed_options={"renderer": "svg", "actions": False})
